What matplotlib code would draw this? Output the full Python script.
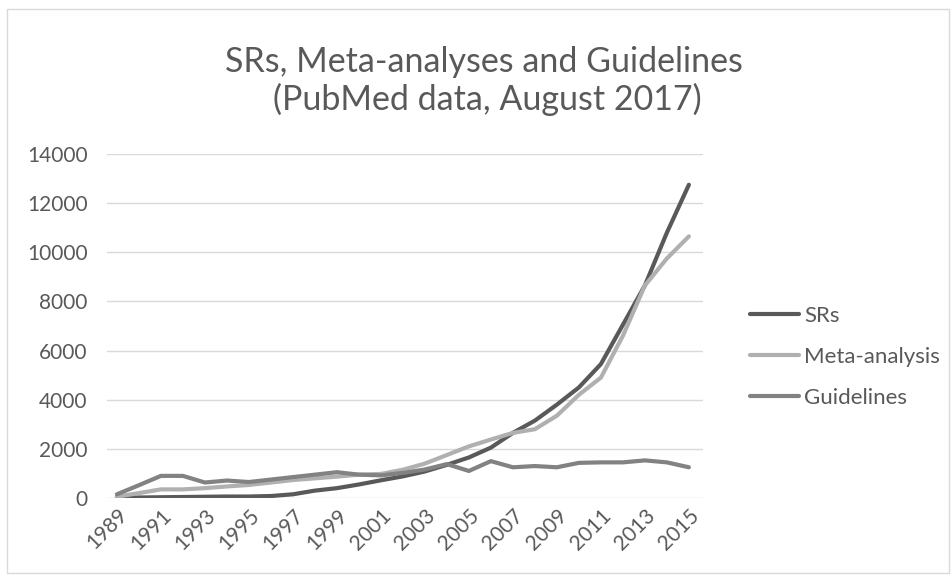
import matplotlib.pyplot as plt
from matplotlib.patches import Rectangle

years = list(range(1989, 2016))

srs = [20, 20, 30, 40, 50, 60, 60, 80, 150, 300, 400, 550, 720, 880, 1080,
       1350, 1650, 2050, 2650, 3150, 3800, 4500, 5450, 7050, 8650, 10800, 12750]
meta = [50, 200, 350, 350, 400, 470, 530, 630, 730, 800, 870, 950, 980, 1150,
        1400, 1750, 2100, 2380, 2650, 2800, 3350, 4200, 4900, 6600, 8650, 9750, 10650]
guidelines = [150, 520, 900, 900, 630, 710, 650, 750, 850, 950, 1050, 950, 920,
              1020, 1160, 1380, 1100, 1500, 1250, 1300, 1250, 1430, 1450, 1450,
              1530, 1450, 1250]

yticks = [0, 2000, 4000, 6000, 8000, 10000, 12000, 14000]
xtick_years = years[::2]

txt = "#595959"
plt.rcParams['font.family'] = ['Lato', 'DejaVu Sans']

fig = plt.figure(figsize=(9.52, 5.8), dpi=100)
fig.patches.append(Rectangle((0.007, 0.012), 0.99, 0.972, transform=fig.transFigure,
                             fill=False, edgecolor="#d9d9d9", linewidth=1))

ax = fig.add_axes([0.1124, 0.1414, 0.626, 0.593])
ax.plot(years, srs, color="#595959", lw=3, label="SRs", solid_capstyle="round")
ax.plot(years, meta, color="#b0b0b0", lw=3, label="Meta-analysis", solid_capstyle="round")
ax.plot(years, guidelines, color="#828282", lw=3, label="Guidelines", solid_capstyle="round")

ax.set_ylim(0, 14000)
ax.set_xlim(1988.55, 2015.64)
ax.set_yticks(yticks)
ax.set_xticks(xtick_years)
ax.set_xticklabels([str(y) for y in xtick_years], rotation=45, ha="right",
                   rotation_mode="anchor")
ax.tick_params(length=0, colors=txt, labelsize=15)
ax.tick_params(axis="y", pad=14)
ax.tick_params(axis="x", pad=5)
ax.grid(axis="y", color="#d9d9d9", lw=1)
ax.set_axisbelow(True)
for s in ax.spines.values():
    s.set_visible(False)

fig.text(0.508, 0.893, "SRs, Meta-analyses and Guidelines", ha="center", va="center",
         fontsize=24.5, color=txt)
fig.text(0.512, 0.828, "(PubMed data, August 2017)", ha="center", va="center",
         fontsize=24.5, color=txt)

ax.legend(loc="center left", bbox_to_anchor=(1.045, 0.41), frameon=False,
          fontsize=16, labelcolor=txt, handlelength=2.2, handletextpad=0.25,
          labelspacing=0.95)

fig.savefig("out.png", dpi=100)
